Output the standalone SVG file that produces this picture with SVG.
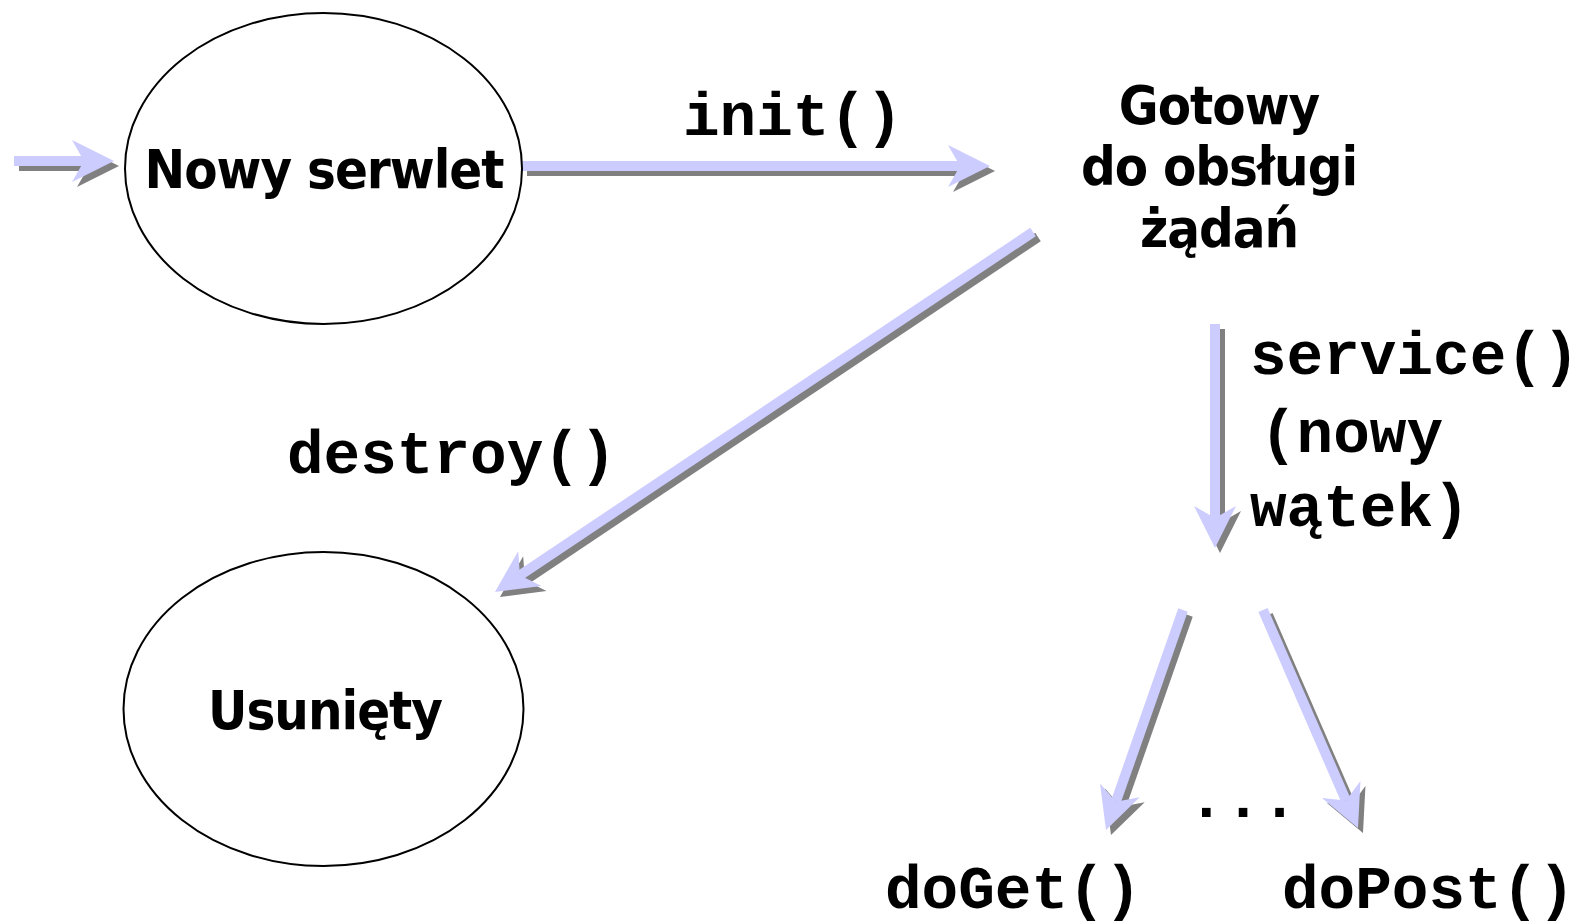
<svg xmlns="http://www.w3.org/2000/svg" width="1586" height="923" viewBox="0 0 1586 923">
  <defs>
    <style>
      .state { fill: #ffffff; stroke: #000000; stroke-width: 2; }
      .label { font-family: "DejaVu Sans Condensed", "DejaVu Sans", sans-serif; font-stretch: condensed; font-weight: bold; font-size: 54px; letter-spacing: -1px; fill: #000000; text-anchor: middle; }
      .code { font-family: "Liberation Mono", "Courier New", monospace; font-weight: bold; font-size: 61px; fill: #000000; }
      .shaft { fill: none; stroke-width: 10; stroke-linecap: butt; }
      .front { stroke: #ccccff; marker-end: url(#headFront); }
      .shadow { stroke: #808080; marker-end: url(#headShadow); }
    </style>
    <!-- notched arrowhead; the shaft ends at the notch (refX) -->
    <marker id="headFront" markerUnits="userSpaceOnUse" viewBox="0 0 42 42" markerWidth="42" markerHeight="42" refX="12" refY="21" orient="auto" overflow="visible">
      <path d="M42,21 L0,0 L12,21 L0,42 Z" fill="#ccccff"/>
    </marker>
    <marker id="headShadow" markerUnits="userSpaceOnUse" viewBox="0 0 42 42" markerWidth="42" markerHeight="42" refX="12" refY="21" orient="auto" overflow="visible">
      <path d="M42,21 L0,0 L12,21 L0,42 Z" fill="#808080"/>
    </marker>
  </defs>

  <rect width="1586" height="923" fill="#ffffff"/>

  <!-- transitions: gray drop shadow under a lavender arrow -->
  <g id="connectors">
    <g id="shadows" transform="translate(5,5)">
      <line class="shaft shadow" x1="14" y1="161" x2="84" y2="161"/>
      <line class="shaft shadow" x1="522" y1="166" x2="960" y2="166"/>
      <line class="shaft shadow" x1="1033" y1="232" x2="519.9" y2="575.3"/>
      <line class="shaft shadow" x1="1215" y1="324" x2="1215" y2="518"/>
      <line class="shaft shadow" x1="1183" y1="610" x2="1115.9" y2="801.7"/>
      <line class="shaft shadow" x1="1263" y1="610" x2="1346" y2="800.5"/>
    </g>
    <g id="arrows">
      <line id="edge-start" class="shaft front" x1="14" y1="161" x2="84" y2="161"/>
      <line id="edge-init" class="shaft front" x1="522" y1="166" x2="960" y2="166"/>
      <line id="edge-destroy" class="shaft front" x1="1033" y1="232" x2="519.9" y2="575.3"/>
      <line id="edge-service" class="shaft front" x1="1215" y1="324" x2="1215" y2="518"/>
      <line id="edge-doget" class="shaft front" x1="1183" y1="610" x2="1115.9" y2="801.7"/>
      <line id="edge-dopost" class="shaft front" x1="1263" y1="610" x2="1346" y2="800.5"/>
    </g>
    <g id="edge-labels">
      <text class="code" x="683" y="135">init()</text>
      <text class="code" x="287" y="473">destroy()</text>
      <text class="code" x="1250" y="374">service()</text>
      <text class="code" x="1260" y="452">(nowy</text>
      <text class="code" x="1250" y="526">wątek)</text>
    </g>
  </g>

  <g id="node-nowy">
    <ellipse class="state" cx="323.5" cy="168.5" rx="198.5" ry="155.5"/>
    <text class="label" x="324" y="188">Nowy serwlet</text>
  </g>

  <g id="node-gotowy">
    <text class="label" x="1219" y="124">Gotowy</text>
    <text class="label" x="1219" y="185">do obsługi</text>
    <text class="label" x="1219" y="247">żądań</text>
  </g>

  <g id="node-usuniety">
    <ellipse class="state" cx="323.5" cy="709" rx="200" ry="157"/>
    <text class="label" x="325" y="729">Usunięty</text>
  </g>

  <g id="node-doget">
    <text class="code" x="885" y="908">doGet()</text>
  </g>

  <g id="node-dots">
    <text class="code" x="1243" y="817" text-anchor="middle">...</text>
  </g>

  <g id="node-dopost">
    <text class="code" x="1282" y="908">doPost()</text>
  </g>
</svg>
